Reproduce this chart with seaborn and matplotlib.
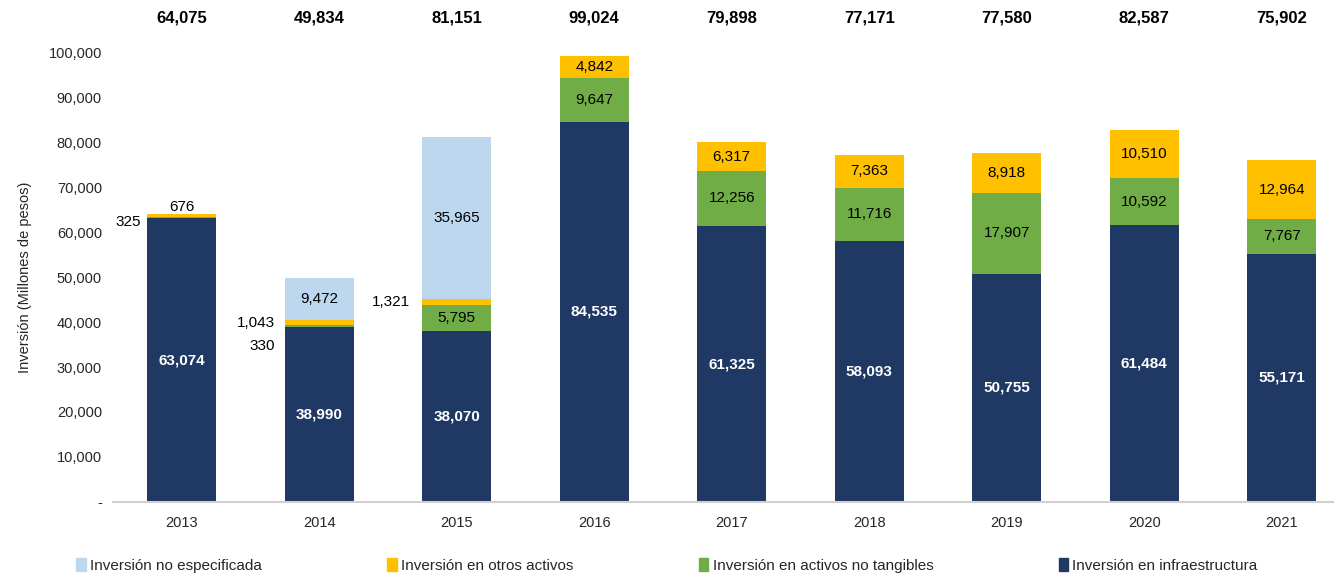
import numpy as np
import pandas as pd
import matplotlib
matplotlib.use('Agg')
import matplotlib.pyplot as plt
from matplotlib.patches import Patch
import seaborn as sns

years = ['2013', '2014', '2015', '2016', '2017', '2018', '2019', '2020', '2021']
infraestructura = [63074, 38990, 38070, 84535, 61325, 58093, 50755, 61484, 55171]
no_tangibles = [325, 330, 5795, 9647, 12256, 11716, 17907, 10592, 7767]
otros_activos = [676, 1043, 1321, 4842, 6317, 7363, 8918, 10510, 12964]
no_especificada = [0, 9472, 35965, 0, 0, 0, 0, 0, 0]
totales = [64075, 49834, 81151, 99024, 79898, 77171, 77580, 82587, 75902]

c_infra = '#203864'
c_tang = '#70AD47'
c_otros = '#FFC000'
c_noesp = '#BDD7EE'

sns.set_theme(style='white')
plt.rcParams['font.family'] = ['Liberation Sans', 'DejaVu Sans']

df = pd.DataFrame({'year': years, 'infra': infraestructura, 'tang': no_tangibles,
                   'otros': otros_activos, 'noesp': no_especificada})
df['c1'] = df['infra']
df['c2'] = df['c1'] + df['tang']
df['c3'] = df['c2'] + df['otros']
df['c4'] = df['c3'] + df['noesp']

fig = plt.figure(figsize=(13.34, 5.78), dpi=100)
ax = fig.add_axes([0.0847, 0.1315, 0.9153, 0.7785])

# stacked bars: draw cumulative from top layer down
for col, color in [('c4', c_noesp), ('c3', c_otros), ('c2', c_tang), ('c1', c_infra)]:
    sns.barplot(data=df, x='year', y=col, color=color, saturation=1, width=0.5,
                edgecolor='none', linewidth=0, ax=ax)

ax.set_xlim(-0.5, 8.38)
ax.set_ylim(0, 100000)
ax.set_yticks(np.arange(0, 100001, 10000))
ax.set_yticklabels(['-'] + [f'{v:,}' for v in range(10000, 100001, 10000)], fontsize=10.5)
ax.tick_params(axis='x', labelsize=10.5, pad=10, length=0)
ax.tick_params(axis='y', length=0, pad=8)
ax.set_xlabel('')
ax.set_ylabel('Inversión (Millones de pesos)', fontsize=10.5, labelpad=12)
for s in ['top', 'right', 'left']:
    ax.spines[s].set_visible(False)
ax.spines['bottom'].set_color('#d0d0d0')
ax.spines['bottom'].set_linewidth(1.5)
ax.grid(False)

# segment labels
small_offsets = {
    (0, 'tang'): (-0.3, -1100, 'right'),
    (0, 'otros'): (0, 1800, 'center'),
    (1, 'otros'): (-0.32, 0, 'right'),
    (1, 'tang'): (-0.32, -4400, 'right'),
    (2, 'otros'): (-0.34, 0, 'right'),
}
for i in range(len(years)):
    layers = [('infra', 0, df['infra'][i], 'white', 'bold'),
              ('tang', df['c1'][i], df['tang'][i], 'black', 'normal'),
              ('otros', df['c2'][i], df['otros'][i], 'black', 'normal'),
              ('noesp', df['c3'][i], df['noesp'][i], 'black', 'normal')]
    for key, base, val, tc, fw in layers:
        if val == 0:
            continue
        if (i, key) in small_offsets:
            dx, dy, ha = small_offsets[(i, key)]
            ax.text(i + dx, base + val / 2 + dy, f'{val:,}', ha=ha, va='center',
                    fontsize=11, color='black')
        else:
            ax.text(i, base + val / 2, f'{val:,}', ha='center', va='center',
                    fontsize=11, color=tc, fontweight=fw)
    ax.text(i, 107600, f'{totales[i]:,}', ha='center', va='center', fontsize=12,
            fontweight='bold', color='black', clip_on=False)

handles = [Patch(color=c_noesp), Patch(color=c_otros), Patch(color=c_tang), Patch(color=c_infra)]
labels = ['Inversión no especificada', 'Inversión en otros activos',
          'Inversión en activos no tangibles', 'Inversión en infraestructura']
fig.legend(handles, labels, loc='center', bbox_to_anchor=(0.5, 0.022), ncol=4, frameon=False,
           fontsize=11, handlelength=0.6, handleheight=1.0, handletextpad=0.3, columnspacing=8.2)

fig.savefig('out.png', dpi=100)
